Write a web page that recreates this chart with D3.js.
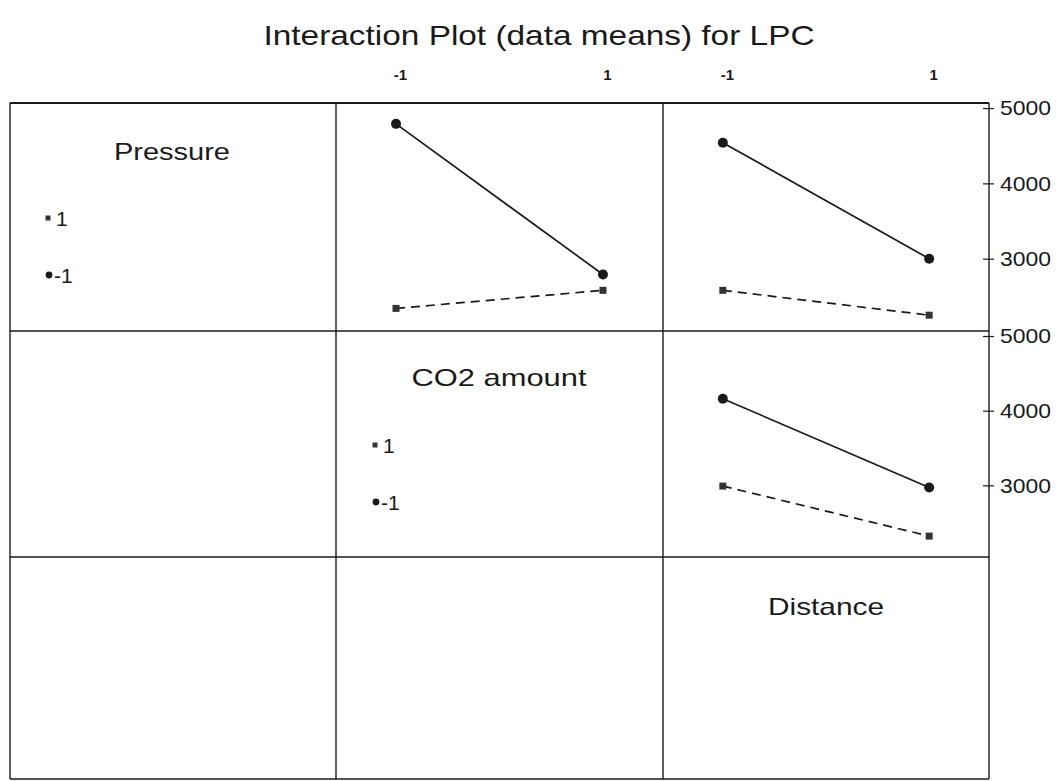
<!DOCTYPE html>
<html>
<head>
<meta charset="utf-8">
<script src="https://cdn.jsdelivr.net/npm/d3@7/dist/d3.min.js"></script>
<style>
  html, body { margin: 0; padding: 0; background: #fff; }
  svg { display: block; font-family: "Liberation Sans", Arial, sans-serif; }
</style>
</head>
<body>
<svg id="chart" width="1058" height="781"></svg>
<script>
// ---- data ----
const title = "Interaction Plot (data means) for LPC";
const factors = ["Pressure", "CO2 amount", "Distance"];
const levels = [-1, 1];
const levelLabels = ["-1", "1"];
const legendLabels = ["1", "-1"];
const yTicks = [3000, 4000, 5000];
// row 1: Pressure lines, col 2: x = CO2 amount
const pressureLow_byCO2 = [4790, 2790];   // Pressure = -1
const pressureHigh_byCO2 = [2340, 2580];  // Pressure = 1
// row 1: Pressure lines, col 3: x = Distance
const pressureLow_byDist = [4540, 3000];
const pressureHigh_byDist = [2580, 2250];
// row 2: CO2 lines, col 3: x = Distance
const co2Low_byDist = [4160, 2970];
const co2High_byDist = [2990, 2320];

// ---- layout ----
const svg = d3.select("#chart");
const colX = [10, 336, 663, 989];
const rowY = [103, 331, 557, 779];
const ink = "#1a1a1a";

svg.append("text")
  .attr("x", 539).attr("y", 45)
  .attr("text-anchor", "middle")
  .attr("font-size", 28)
  .attr("textLength", 551).attr("lengthAdjust", "spacingAndGlyphs")
  .attr("fill", ink)
  .text(title);

// grid
const grid = svg.append("g").attr("stroke", ink).attr("stroke-width", 1.4).attr("fill", "none");
colX.forEach(x => grid.append("line").attr("x1", x).attr("x2", x).attr("y1", rowY[0]).attr("y2", rowY[3]));
rowY.forEach((y, i) => grid.append("line").attr("x1", colX[0]).attr("x2", colX[3]).attr("y1", y).attr("y2", y)
  .attr("stroke-width", i === 0 ? 2 : 1.4));

// scales
const xScales = [0, 1, 2].map(c => d3.scaleLinear().domain([-1.58, 1.58]).range([colX[c], colX[c + 1]]));
const yScales = [0, 1, 2].map(r => d3.scaleLinear().domain([2040, 5067]).range([rowY[r + 1], rowY[r]]));

// top axes (x levels)
[1, 2].forEach(c => {
  const ax = svg.append("g").attr("transform", `translate(4,${rowY[0] - 20})`)
    .call(d3.axisTop(xScales[c]).tickValues(levels).tickSize(0).tickFormat((d, i) => levelLabels[i]));
  ax.select(".domain").remove();
  ax.selectAll("text").attr("font-size", 15).attr("font-weight", "bold").attr("fill", ink)
    .attr("font-family", "Liberation Sans, Arial, sans-serif");
});

// right axes
[0, 1].forEach(r => {
  const ax = svg.append("g").attr("transform", `translate(${colX[3]},0)`)
    .call(d3.axisRight(yScales[r]).tickValues(yTicks).tickSize(5).tickPadding(6).tickFormat(d3.format("d")));
  ax.select(".domain").remove();
  ax.selectAll(".tick line").attr("x1", -6).attr("stroke", ink).attr("stroke-width", 1.2);
  ax.selectAll("text").attr("font-size", 21).attr("fill", ink)
    .attr("font-family", "Liberation Sans, Arial, sans-serif")
    .attr("textLength", 51).attr("lengthAdjust", "spacingAndGlyphs");
});

// series drawing
function drawPanel(r, c, lowVals, highVals) {
  const xs = xScales[c], ys = yScales[r];
  const g = svg.append("g");
  const line = d3.line().x((d, i) => xs(levels[i])).y(d => ys(d));
  g.append("path").attr("d", line(lowVals)).attr("fill", "none").attr("stroke", ink).attr("stroke-width", 1.7);
  g.append("path").attr("d", line(highVals)).attr("fill", "none").attr("stroke", ink).attr("stroke-width", 1.7)
    .attr("stroke-dasharray", "9,6");
  g.selectAll("circle").data(lowVals).join("circle")
    .attr("cx", (d, i) => xs(levels[i])).attr("cy", d => ys(d)).attr("r", 5).attr("fill", ink);
  g.selectAll("rect").data(highVals).join("rect")
    .attr("x", (d, i) => xs(levels[i]) - 3.5).attr("y", d => ys(d) - 3.5)
    .attr("width", 7).attr("height", 7).attr("fill", "#333");
}
drawPanel(0, 1, pressureLow_byCO2, pressureHigh_byCO2);
drawPanel(0, 2, pressureLow_byDist, pressureHigh_byDist);
drawPanel(1, 2, co2Low_byDist, co2High_byDist);

// diagonal labels + legends
const labelPos = [
  { x: 172, y: 160, w: 116 },
  { x: 499, y: 386, w: 175 },
  { x: 826, y: 615, w: 116 }
];
factors.forEach((f, i) => {
  svg.append("text").attr("x", labelPos[i].x).attr("y", labelPos[i].y)
    .attr("text-anchor", "middle").attr("font-size", 24).attr("fill", ink)
    .attr("textLength", labelPos[i].w).attr("lengthAdjust", "spacingAndGlyphs")
    .text(f);
});
const legendPos = [
  { x: 48, y1: 218, y2: 275 },
  { x: 375, y1: 445, y2: 502 }
];
legendPos.forEach(p => {
  const g = svg.append("g");
  g.append("rect").attr("x", p.x - 2.5).attr("y", p.y1 - 2.5).attr("width", 5).attr("height", 5).attr("fill", "#333");
  g.append("text").attr("x", p.x + 8).attr("y", p.y1 + 8).attr("font-size", 21).attr("fill", ink).text(legendLabels[0]);
  g.append("circle").attr("cx", p.x + 1).attr("cy", p.y2).attr("r", 3.4).attr("fill", ink);
  g.append("text").attr("x", p.x + 6).attr("y", p.y2 + 8).attr("font-size", 21).attr("fill", ink).text(legendLabels[1]);
});
</script>
</body>
</html>
